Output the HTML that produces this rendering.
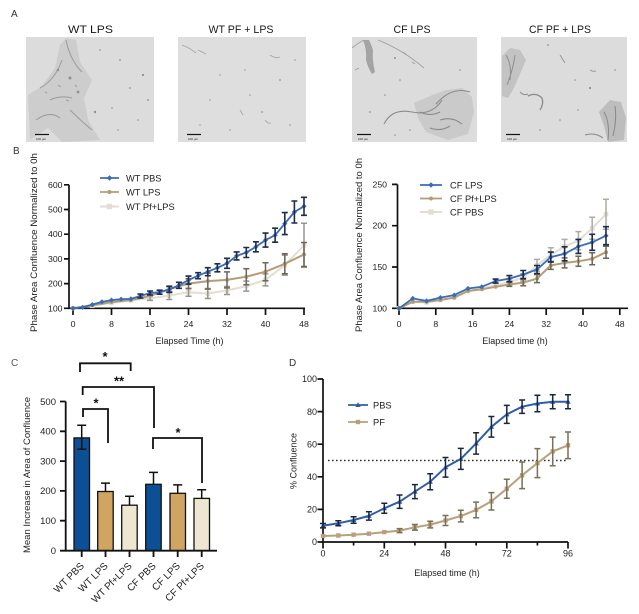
<!DOCTYPE html>
<html><head><meta charset="utf-8"><style>
html,body{margin:0;padding:0;background:#fff;}
svg{display:block;}
text{font-family:"Liberation Sans",Arial,sans-serif;}
</style></head><body>
<svg width="639" height="614" viewBox="0 0 639 614" xmlns="http://www.w3.org/2000/svg">
<defs>
<marker id="mdB" viewBox="-3 -3 6 6" markerWidth="6" markerHeight="6" markerUnits="userSpaceOnUse"><path d="M0,-2.6L2.6,0L0,2.6L-2.6,0Z" fill="#3b6cb4"/></marker>
<marker id="mcT" viewBox="-3 -3 6 6" markerWidth="6" markerHeight="6" markerUnits="userSpaceOnUse"><circle r="2" fill="#b49d74"/></marker>
<marker id="msL" viewBox="-3 -3 6 6" markerWidth="6" markerHeight="6" markerUnits="userSpaceOnUse"><rect x="-2.3" y="-2.3" width="4.6" height="4.6" fill="#e2ded4"/></marker>
<marker id="mtD" viewBox="-3 -3 6 6" markerWidth="6" markerHeight="6" markerUnits="userSpaceOnUse"><path d="M0,-2.8L2.7,2L-2.7,2Z" fill="#2f5ea8"/></marker>
<marker id="msD" viewBox="-3 -3 6 6" markerWidth="6" markerHeight="6" markerUnits="userSpaceOnUse"><rect x="-2.2" y="-2.2" width="4.4" height="4.4" fill="#b8a07a"/></marker>
</defs>
<rect width="639" height="614" fill="#fff"/>

<!-- ================= Panel A ================= -->
<text x="11" y="17" font-size="10" fill="#333">A</text>
<text x="90.5" y="33" font-size="11" fill="#1a1a1a" text-anchor="middle" textLength="45" lengthAdjust="spacingAndGlyphs">WT LPS</text>
<text x="241" y="33" font-size="11" fill="#1a1a1a" text-anchor="middle" textLength="65" lengthAdjust="spacingAndGlyphs">WT PF + LPS</text>
<text x="412" y="33" font-size="11" fill="#1a1a1a" text-anchor="middle" textLength="37" lengthAdjust="spacingAndGlyphs">CF LPS</text>
<text x="560" y="33" font-size="11" fill="#1a1a1a" text-anchor="middle" textLength="62" lengthAdjust="spacingAndGlyphs">CF PF + LPS</text>

<!-- image 1 -->
<rect x="26" y="37" width="128" height="105" fill="#dcdcdc"/>
<polygon points="28,95 42,86 55,68 60,45 66,38 76,40 80,62 92,80 84,98 88,120 100,140 62,142 48,128 30,140" fill="#cdcdcd"/>
<path d="M40,88 Q55,80 62,60 M66,40 Q70,60 82,72 M50,100 Q60,95 72,98 M36,120 Q50,110 60,118 M70,110 Q80,120 92,130 M45,92 l2,1 M58,85 l3,2 M75,85 l2,2 M66,100 l3,1" stroke="#9c9c9c" stroke-width="1" fill="none"/>
<g fill="#8f8f8f"><circle cx="70" cy="78" r="1.5"/><circle cx="78" cy="92" r="1.4"/><circle cx="120" cy="60" r="0.9"/><circle cx="130" cy="88" r="0.9"/><circle cx="143" cy="75" r="1.1"/><circle cx="112" cy="108" r="0.8"/><circle cx="138" cy="120" r="0.8"/><circle cx="100" cy="50" r="0.8"/><circle cx="118" cy="130" r="0.7"/><circle cx="148" cy="100" r="0.9"/><circle cx="95" cy="112" r="1.2"/><circle cx="58" cy="70" r="1.2"/></g>
<line x1="35" y1="134.5" x2="49" y2="134.5" stroke="#111" stroke-width="1.2"/>
<text x="36" y="140" font-size="3" fill="#222">100 µm</text>

<!-- image 2 -->
<rect x="178" y="37" width="128" height="105" fill="#dedede"/>
<path d="M182,45 q8,3 14,8 M198,50 l8,4 M270,55 q6,4 10,2 M240,110 l3,5 M265,120 q3,4 6,3" stroke="#a6a6a6" stroke-width="0.9" fill="none"/>
<g fill="#959595"><circle cx="220" cy="75" r="0.8"/><circle cx="250" cy="95" r="0.8"/><circle cx="280" cy="80" r="0.9"/><circle cx="210" cy="100" r="0.7"/><circle cx="262" cy="112" r="0.9"/><circle cx="295" cy="60" r="0.8"/><circle cx="230" cy="130" r="0.7"/><circle cx="290" cy="125" r="0.8"/><circle cx="200" cy="125" r="0.7"/><circle cx="245" cy="70" r="0.7"/></g>
<line x1="187" y1="134.5" x2="201" y2="134.5" stroke="#111" stroke-width="1.2"/>
<text x="188" y="140" font-size="3" fill="#222">100 µm</text>

<!-- image 3 -->
<rect x="352" y="37" width="125" height="105" fill="#dcdcdc"/>
<path d="M363,40 q4,10 3,20 q2,8 6,14 l3,-2 q-3,-12 -2,-22 q-2,-6 -4,-10 Z" fill="#a4a4a4"/>
<path d="M352,48 q6,-5 12,-8 M378,40 q25,10 46,28 M355,70 l4,-2 M403,52 l4,3 M412,62 l3,2" stroke="#a0a0a0" stroke-width="0.9" fill="none"/>
<polygon points="414,103 430,96 446,90 462,88 472,97 474,112 468,134 448,140 426,132 418,118" fill="#cacaca"/>
<path d="M384,124 Q392,108 412,112 T442,100 M436,104 Q452,86 470,92 M420,112 q10,5 20,0 M440,120 q12,-4 22,4 M430,128 q10,4 20,-2" stroke="#8a8a8a" stroke-width="1.1" fill="none"/>
<g fill="#8f8f8f"><circle cx="395" cy="58" r="1"/><circle cx="400" cy="80" r="0.8"/><circle cx="385" cy="95" r="0.8"/><circle cx="370" cy="112" r="0.9"/><circle cx="460" cy="70" r="0.8"/><circle cx="395" cy="135" r="0.8"/><circle cx="410" cy="130" r="0.8"/></g>
<line x1="357" y1="134.5" x2="371" y2="134.5" stroke="#111" stroke-width="1.2"/>
<text x="358" y="140" font-size="3" fill="#222">100 µm</text>

<!-- image 4 -->
<rect x="501" y="37" width="126" height="105" fill="#dcdcdc"/>
<polygon points="502,56 510,48 520,50 526,60 520,74 514,88 508,98 502,96" fill="#c3c3c3"/>
<path d="M506,55 q6,10 4,25 M515,55 q-2,15 -8,30 M520,92 q4,4 8,2" stroke="#8e8e8e" stroke-width="1" fill="none"/>
<path d="M528,96 q8,-4 14,2 q2,6 -2,12" stroke="#8a8a8a" stroke-width="1.3" fill="none"/>
<polygon points="599,112 610,100 621,102 626,118 624,140 608,142 604,126" fill="#bdbdbd"/>
<path d="M604,112 q6,10 4,28 M615,106 q2,14 -2,30 M585,135 q10,-3 18,3" stroke="#888" stroke-width="1" fill="none"/>
<path d="M560,55 l5,8 M590,70 q3,2 6,1" stroke="#999" stroke-width="1" fill="none"/>
<g fill="#8f8f8f"><circle cx="548" cy="45" r="0.9"/><circle cx="575" cy="80" r="0.8"/><circle cx="590" cy="88" r="1.1"/><circle cx="560" cy="120" r="0.8"/><circle cx="540" cy="130" r="0.8"/><circle cx="578" cy="110" r="0.7"/><circle cx="615" cy="70" r="0.8"/></g>
<line x1="506" y1="134.5" x2="520" y2="134.5" stroke="#111" stroke-width="1.2"/>
<text x="507" y="140" font-size="3" fill="#222">100 µm</text>

<!-- ================= Panel B left ================= -->
<text x="13" y="154" font-size="10" fill="#333">B</text>
<text transform="translate(37,242.5) rotate(-90)" font-size="9.5" fill="#222" text-anchor="middle" textLength="179" lengthAdjust="spacingAndGlyphs">Phase Area  Confluence Normalized to 0h</text>
<g stroke="#111" stroke-width="1.7" fill="none">
<path d="M69,184.8V308.3H305"/>
<path d="M64,184.8H69M64,209.5H69M64,234.2H69M64,258.9H69M64,283.6H69M64,308.3H69"/>
<path d="M73,308.3V315M111.5,308.3V315M150,308.3V315M188.5,308.3V315M227,308.3V315M265.5,308.3V315M304,308.3V315"/>
</g>
<g font-size="8.7" fill="#222" text-anchor="end">
<text x="62.5" y="187.8">600</text><text x="62.5" y="212.5">500</text><text x="62.5" y="237.2">400</text><text x="62.5" y="261.9">300</text><text x="62.5" y="286.6">200</text><text x="62.5" y="311.3">100</text>
</g>
<g font-size="8.7" fill="#222" text-anchor="middle">
<text x="73" y="327">0</text><text x="111.5" y="327">8</text><text x="150" y="327">16</text><text x="188.5" y="327">24</text><text x="227" y="327">32</text><text x="265.5" y="327">40</text><text x="304" y="327">48</text>
</g>
<text x="189.5" y="344" font-size="9" fill="#222" text-anchor="middle">Elapsed Time (h)</text>

<!-- series: light -->
<polyline points="73,308.3 92.3,305.8 111.5,302.9 130.8,300.4 150,298.4 169.3,295.5 188.5,292.2 207.8,293.5 227,290.5 246.3,286.1 265.5,279.9 284.8,265.1 304,245.3" fill="none" stroke="#e2ded4" stroke-width="2" marker-start="url(#msL)" marker-mid="url(#msL)" marker-end="url(#msL)"/>
<path d="M150,296.4V300.4M147,296.4H153M147,300.4H153 M169.3,291.5V299.5M166.3,291.5H172.3M166.3,299.5H172.3 M188.5,288.2V296.2M185.5,288.2H191.5M185.5,296.2H191.5 M207.8,288.5V298.5M204.8,288.5H210.8M204.8,298.5H210.8 M227,286.5V294.5M224,286.5H230M224,294.5H230 M246.3,281.1V291.1M243.3,281.1H249.3M243.3,291.1H249.3 M265.5,273.9V285.9M262.5,273.9H268.5M262.5,285.9H268.5 M284.8,255.1V275.1M281.8,255.1H287.8M281.8,275.1H287.8 M304,223.3V267.3M301,223.3H307M301,267.3H307" stroke="#98958c" stroke-width="1.5" fill="none"/>
<!-- series: tan -->
<polyline points="73,308.3 92.3,305.3 111.5,302.1 130.8,300.1 150,295.9 169.3,289 188.5,283.6 207.8,281.1 227,279.9 246.3,276.7 265.5,271.7 284.8,263.8 304,254.5" fill="none" stroke="#b49d74" stroke-width="2" marker-start="url(#mcT)" marker-mid="url(#mcT)" marker-end="url(#mcT)"/>
<path d="M169.3,286V292M166.3,286H172.3M166.3,292H172.3 M188.5,278.6V288.6M185.5,278.6H191.5M185.5,288.6H191.5 M207.8,273.1V289.1M204.8,273.1H210.8M204.8,289.1H210.8 M227,271.9V287.9M224,271.9H230M224,287.9H230 M246.3,268.7V284.7M243.3,268.7H249.3M243.3,284.7H249.3 M265.5,262.7V280.7M262.5,262.7H268.5M262.5,280.7H268.5 M284.8,253.8V273.8M281.8,253.8H287.8M281.8,273.8H287.8 M304,242.5V266.5M301,242.5H307M301,266.5H307" stroke="#6d675a" stroke-width="1.5" fill="none"/>
<!-- series: blue -->
<polyline points="73,308.3 82.6,307.3 92.3,304.6 101.9,301.9 111.5,300.1 121.1,299.2 130.8,298.9 140.4,296 150,293 159.6,292.2 169.3,289.5 178.9,285.3 188.5,280.1 198.1,275.7 207.8,271.7 217.4,267.8 227,263.3 236.6,255.9 246.3,252.5 255.9,246.8 265.5,240.1 275.1,235.2 284.8,223.6 294.4,212 304,206.3" fill="none" stroke="#3b6cb4" stroke-width="1.8" marker-start="url(#mdB)" marker-mid="url(#mdB)" marker-end="url(#mdB)"/>
<path d="M140.4,294V298M137.4,294H143.4M137.4,298H143.4 M150,291V295M147,291H153M147,295H153 M159.6,290.2V294.2M156.6,290.2H162.6M156.6,294.2H162.6 M169.3,286.5V292.5M166.3,286.5H172.3M166.3,292.5H172.3 M178.9,282.3V288.3M175.9,282.3H181.9M175.9,288.3H181.9 M188.5,276.1V284.1M185.5,276.1H191.5M185.5,284.1H191.5 M198.1,272.7V278.7M195.1,272.7H201.1M195.1,278.7H201.1 M207.8,267.7V275.7M204.8,267.7H210.8M204.8,275.7H210.8 M217.4,263.8V271.8M214.4,263.8H220.4M214.4,271.8H220.4 M227,258.3V268.3M224,258.3H230M224,268.3H230 M236.6,251.9V259.9M233.6,251.9H239.6M233.6,259.9H239.6 M246.3,247.5V257.5M243.3,247.5H249.3M243.3,257.5H249.3 M255.9,241.8V251.8M252.9,241.8H258.9M252.9,251.8H258.9 M265.5,233.1V247.1M262.5,233.1H268.5M262.5,247.1H268.5 M275.1,228.2V242.2M272.1,228.2H278.1M272.1,242.2H278.1 M284.8,212.6V234.6M281.8,212.6H287.8M281.8,234.6H287.8 M294.4,201V223M291.4,201H297.4M291.4,223H297.4 M304,197.3V215.3M301,197.3H307M301,215.3H307" stroke="#1c2b4e" stroke-width="1.6" fill="none"/>
<!-- legend -->
<line x1="100" y1="178" x2="119" y2="178" stroke="#3b6cb4" stroke-width="1.8"/><path d="M109.5,175.2L112.3,178L109.5,180.8L106.7,178Z" fill="#3b6cb4"/>
<line x1="100" y1="192" x2="119" y2="192" stroke="#b49d74" stroke-width="1.8"/><circle cx="109.5" cy="192" r="2" fill="#b49d74"/>
<line x1="100" y1="206.5" x2="119" y2="206.5" stroke="#e2ded4" stroke-width="2"/><rect x="106.8" y="203.8" width="5.4" height="5.4" fill="#e2ded4"/>
<g font-size="9.3" fill="#222"><text x="126" y="181.3">WT PBS</text><text x="126" y="195.3">WT LPS</text><text x="126" y="209.8">WT Pf+LPS</text></g>

<!-- ================= Panel B right ================= -->
<text transform="translate(362,245) rotate(-90)" font-size="9.5" fill="#222" text-anchor="middle" textLength="174" lengthAdjust="spacingAndGlyphs">Phase Area  Confluence Normalized to 0h</text>
<g stroke="#111" stroke-width="1.7" fill="none">
<path d="M397.5,184.4V308.3H628"/>
<path d="M392,184.4H397.5M392,225.7H397.5M392,267H397.5M392,308.3H397.5"/>
<path d="M399,308.3V315M435.8,308.3V315M472.6,308.3V315M509.4,308.3V315M546.2,308.3V315M583,308.3V315M619.8,308.3V315"/>
</g>
<g font-size="8.7" fill="#222" text-anchor="end">
<text x="387" y="187.4">250</text><text x="387" y="228.7">200</text><text x="387" y="270">150</text><text x="387" y="311.3">100</text>
</g>
<g font-size="8.7" fill="#222" text-anchor="middle">
<text x="399" y="327">0</text><text x="435.8" y="327">8</text><text x="472.6" y="327">16</text><text x="509.4" y="327">24</text><text x="546.2" y="327">32</text><text x="583" y="327">40</text><text x="619.8" y="327">48</text>
</g>
<text x="515" y="344" font-size="9" fill="#222" text-anchor="middle">Elapsed time (h)</text>

<polyline points="399,308.3 412.8,301.7 426.6,302.5 440.4,300 454.2,297.6 468,291 481.8,288.5 495.6,285.2 509.4,281.9 523.2,277.8 537,265.4 550.8,254.7 564.6,246.4 578.4,240.6 592.2,228.2 606,214.2" fill="none" stroke="#e2ded4" stroke-width="2" marker-start="url(#msL)" marker-mid="url(#msL)" marker-end="url(#msL)"/>
<path d="M509.4,278.9V284.9M506.4,278.9H512.4M506.4,284.9H512.4 M523.2,273.8V281.8M520.2,273.8H526.2M520.2,281.8H526.2 M537,259.4V271.4M534,259.4H540M534,271.4H540 M550.8,247.7V261.7M547.8,247.7H553.8M547.8,261.7H553.8 M564.6,239.4V253.4M561.6,239.4H567.6M561.6,253.4H567.6 M578.4,231.6V249.6M575.4,231.6H581.4M575.4,249.6H581.4 M592.2,217.2V239.2M589.2,217.2H595.2M589.2,239.2H595.2 M606,199.2V229.2M603,199.2H609M603,229.2H609" stroke="#aeaba3" stroke-width="1.5" fill="none"/>
<polyline points="399,308.3 412.8,301.7 426.6,301.7 440.4,300 454.2,297.6 468,291 481.8,289.3 495.6,286.8 509.4,284.4 523.2,282.7 537,278.6 550.8,265.4 564.6,262.9 578.4,261.3 592.2,258.8 606,252.2" fill="none" stroke="#b49d74" stroke-width="2" marker-start="url(#mcT)" marker-mid="url(#mcT)" marker-end="url(#mcT)"/>
<path d="M509.4,282.4V286.4M506.4,282.4H512.4M506.4,286.4H512.4 M523.2,279.7V285.7M520.2,279.7H526.2M520.2,285.7H526.2 M537,274.6V282.6M534,274.6H540M534,282.6H540 M550.8,261.4V269.4M547.8,261.4H553.8M547.8,269.4H553.8 M564.6,257.9V267.9M561.6,257.9H567.6M561.6,267.9H567.6 M578.4,256.3V266.3M575.4,256.3H581.4M575.4,266.3H581.4 M592.2,252.8V264.8M589.2,252.8H595.2M589.2,264.8H595.2 M606,246.2V258.2M603,246.2H609M603,258.2H609" stroke="#6d675a" stroke-width="1.5" fill="none"/>
<polyline points="399,308.3 412.8,298.4 426.6,300.9 440.4,297.6 454.2,295.1 468,288.5 481.8,286.8 495.6,281.1 509.4,278.6 523.2,274.5 537,269.5 550.8,257.1 564.6,253.8 578.4,246.4 592.2,242.3 606,235.7" fill="none" stroke="#3b6cb4" stroke-width="1.8" marker-start="url(#mdB)" marker-mid="url(#mdB)" marker-end="url(#mdB)"/>
<path d="M495.6,279.1V283.1M492.6,279.1H498.6M492.6,283.1H498.6 M509.4,275.6V281.6M506.4,275.6H512.4M506.4,281.6H512.4 M523.2,270.5V278.5M520.2,270.5H526.2M520.2,278.5H526.2 M537,265.5V273.5M534,265.5H540M534,273.5H540 M550.8,252.1V262.1M547.8,252.1H553.8M547.8,262.1H553.8 M564.6,246.8V260.8M561.6,246.8H567.6M561.6,260.8H567.6 M578.4,239.4V253.4M575.4,239.4H581.4M575.4,253.4H581.4 M592.2,234.3V250.3M589.2,234.3H595.2M589.2,250.3H595.2 M606,226.7V244.7M603,226.7H609M603,244.7H609" stroke="#1c2b4e" stroke-width="1.6" fill="none"/>
<line x1="420" y1="185" x2="442" y2="185" stroke="#3b6cb4" stroke-width="1.8"/><path d="M431,182.2L433.8,185L431,187.8L428.2,185Z" fill="#3b6cb4"/>
<line x1="420" y1="198.5" x2="442" y2="198.5" stroke="#b49d74" stroke-width="1.8"/><circle cx="431" cy="198.5" r="2" fill="#b49d74"/>
<line x1="420" y1="212" x2="442" y2="212" stroke="#e2ded4" stroke-width="2"/><rect x="428.3" y="209.3" width="5.4" height="5.4" fill="#e2ded4"/>
<g font-size="9.3" fill="#222"><text x="450" y="188.3">CF LPS</text><text x="450" y="201.8">CF Pf+LPS</text><text x="450" y="215.3">CF PBS</text></g>

<!-- ================= Panel C ================= -->
<text x="11" y="366" font-size="10" fill="#555">C</text>
<text transform="translate(30,475) rotate(-90)" font-size="9.5" fill="#222" text-anchor="middle" textLength="156" lengthAdjust="spacingAndGlyphs">Mean Increase in  Area of Confluence</text>
<g stroke="#111" stroke-width="1.3">
<rect x="74" y="437.9" width="15.5" height="112.8" fill="#0c4f94"/>
<rect x="97.7" y="491.5" width="15.5" height="59.2" fill="#d0a461"/>
<rect x="121.7" y="505.2" width="15.5" height="45.5" fill="#efe6d1"/>
<rect x="145.7" y="484.3" width="15.5" height="66.4" fill="#0c4f94"/>
<rect x="170" y="493.3" width="15.5" height="57.4" fill="#d0a461"/>
<rect x="194" y="498.4" width="15.5" height="52.3" fill="#efe6d1"/>
</g>
<path d="M81.7,425.3V449.2M77.2,425.3H86.2M77.2,449.2H86.2 M105.5,491.5V483.1M101,483.1H110 M129.5,505.2V496.3M125,496.3H134 M153.5,484.3V472.4M149,472.4H158 M177.7,493.3V484.9M173.2,484.9H182.2 M201.7,498.4V489.7M197.2,489.7H206.2" stroke="#111" stroke-width="1.5" fill="none"/>
<g stroke="#111" stroke-width="1.8" fill="none">
<path d="M65.7,401.5V550.7H217"/>
<path d="M60,401.5H65.7M60,431.3H65.7M60,461.1H65.7M60,490.9H65.7M60,520.7H65.7M60,550.7H65.7"/>
<path d="M81.7,550.7V557M105.5,550.7V557M129.5,550.7V557M153.5,550.7V557M177.7,550.7V557M201.7,550.7V557"/>
</g>
<g font-size="9.5" fill="#222" text-anchor="end">
<text x="56" y="404.8">500</text><text x="56" y="434.6">400</text><text x="56" y="464.4">300</text><text x="56" y="494.2">200</text><text x="56" y="524">100</text><text x="56" y="554">0</text>
</g>
<g font-size="10" fill="#222" text-anchor="end">
<text transform="translate(84.7,566.5) rotate(-45)">WT PBS</text>
<text transform="translate(108.5,566.5) rotate(-45)">WT LPS</text>
<text transform="translate(132.5,566.5) rotate(-45)">WT Pf+LPS</text>
<text transform="translate(156.5,566.5) rotate(-45)">CF PBS</text>
<text transform="translate(180.7,566.5) rotate(-45)">CF LPS</text>
<text transform="translate(204.7,566.5) rotate(-45)">CF Pf+LPS</text>
</g>
<g stroke="#111" stroke-width="1.8" fill="none">
<path d="M80,372V363.3H130.7V371"/>
<path d="M82.7,395V387H154V428"/>
<path d="M83,417V409H108V443"/>
<path d="M153,449V438H202V483"/>
</g>
<g font-size="13" font-weight="bold" fill="#111" text-anchor="middle">
<text x="105" y="361">*</text>
<text x="119" y="385.7">**</text>
<text x="96" y="407.5">*</text>
<text x="178" y="437.2">*</text>
</g>

<!-- ================= Panel D ================= -->
<text x="289" y="366" font-size="10" fill="#333">D</text>
<text transform="translate(296.5,461) rotate(-90)" font-size="9" fill="#222" text-anchor="middle">% Confluence</text>
<g stroke="#111" stroke-width="1.7" fill="none">
<path d="M323,379V542H568"/>
<path d="M317.5,379H323M317.5,411.6H323M317.5,444.2H323M317.5,476.8H323M317.5,509.4H323M317.5,542H323"/>
<path d="M323,542V548.5M384.3,542V548.5M445.5,542V548.5M506.8,542V548.5M568,542V548.5"/>
<path d="M353.6,542V545.5M414.9,542V545.5M476.1,542V545.5M537.4,542V545.5"/>
</g>
<g font-size="9" fill="#222" text-anchor="end">
<text x="317" y="382.2">100</text><text x="317" y="414.8">80</text><text x="317" y="447.4">60</text><text x="317" y="480">40</text><text x="317" y="512.6">20</text><text x="317" y="545.2">0</text>
</g>
<g font-size="9" fill="#222" text-anchor="middle">
<text x="323" y="556.5">0</text><text x="384.3" y="556.5">24</text><text x="445.5" y="556.5">48</text><text x="506.8" y="556.5">72</text><text x="568" y="556.5">96</text>
</g>
<text x="447" y="576" font-size="9" fill="#222" text-anchor="middle">Elapsed time (h)</text>
<line x1="328" y1="460.5" x2="568" y2="460.5" stroke="#333" stroke-width="1.4" stroke-dasharray="1.6,2.4"/>

<polyline points="323,536 338.3,535.5 353.6,534.7 368.9,533.7 384.3,532.1 399.6,530.6 414.9,527.3 430.2,524.6 445.5,520.5 460.8,516.1 476.1,509.9 491.4,501.3 506.8,488.7 522.1,475.3 537.4,463.1 552.7,451.4 568,445.3" fill="none" stroke="#b8a07a" stroke-width="2" stroke-linejoin="round" marker-start="url(#msD)" marker-mid="url(#msD)" marker-end="url(#msD)"/>
<path d="M399.6,528.6V532.6M396.6,528.6H402.6M396.6,532.6H402.6 M414.9,524.5V530.1M411.9,524.5H417.9M411.9,530.1H417.9 M430.2,521.3V527.9M427.2,521.3H433.2M427.2,527.9H433.2 M445.5,515.5V525.5M442.5,515.5H448.5M442.5,525.5H448.5 M460.8,510.3V521.9M457.8,510.3H463.8M457.8,521.9H463.8 M476.1,502.1V517.7M473.1,502.1H479.1M473.1,517.7H479.1 M491.4,492.6V510M488.4,492.6H494.4M488.4,510H494.4 M506.8,479.2V498.2M503.8,479.2H509.8M503.8,498.2H509.8 M522.1,462V488.6M519.1,462H525.1M519.1,488.6H525.1 M537.4,448.6V477.6M534.4,448.6H540.4M534.4,477.6H540.4 M552.7,437.1V465.7M549.7,437.1H555.7M549.7,465.7H555.7 M568,432V458.6M565,432H571M565,458.6H571" stroke="#7a6f58" stroke-width="1.5" fill="none"/>
<polyline points="323,525.7 338.3,523.3 353.6,520 368.9,515.9 384.3,508.3 399.6,501.7 414.9,491.6 430.2,481.7 445.5,467.3 460.8,458.9 476.1,443.4 491.4,426.8 506.8,414.4 522.1,406.7 537.4,403.5 552.7,401.8 568,401.8" fill="none" stroke="#2f5ea8" stroke-width="2" stroke-linejoin="round" marker-start="url(#mtD)" marker-mid="url(#mtD)" marker-end="url(#mtD)"/>
<path d="M323,523.5V527.9M320,523.5H326M320,527.9H326 M338.3,520.8V525.8M335.3,520.8H341.3M335.3,525.8H341.3 M353.6,516.7V523.3M350.6,516.7H356.6M350.6,523.3H356.6 M368.9,511.7V520.1M365.9,511.7H371.9M365.9,520.1H371.9 M384.3,503.3V513.3M381.3,503.3H387.3M381.3,513.3H387.3 M399.6,495V508.4M396.6,495H402.6M396.6,508.4H402.6 M414.9,484.6V498.6M411.9,484.6H417.9M411.9,498.6H417.9 M430.2,473.7V489.7M427.2,473.7H433.2M427.2,489.7H433.2 M445.5,457.5V477.1M442.5,457.5H448.5M442.5,477.1H448.5 M460.8,448.4V469.4M457.8,448.4H463.8M457.8,469.4H463.8 M476.1,432.7V454.1M473.1,432.7H479.1M473.1,454.1H479.1 M491.4,416.5V437.1M488.4,416.5H494.4M488.4,437.1H494.4 M506.8,405.4V423.4M503.8,405.4H509.8M503.8,423.4H509.8 M522.1,400V413.4M519.1,400H525.1M519.1,413.4H525.1 M537.4,395.2V411.8M534.4,395.2H540.4M534.4,411.8H540.4 M552.7,394.8V408.8M549.7,394.8H555.7M549.7,408.8H555.7 M568,394.8V408.8M565,394.8H571M565,408.8H571" stroke="#1a2440" stroke-width="1.5" fill="none"/>
<line x1="348" y1="405" x2="368" y2="405" stroke="#2f5ea8" stroke-width="1.8"/><path d="M358,402.2L360.7,407L355.3,407Z" fill="#2f5ea8"/>
<line x1="348" y1="422" x2="368" y2="422" stroke="#b8a07a" stroke-width="1.8"/><rect x="355.8" y="419.8" width="4.4" height="4.4" fill="#b8a07a"/>
<g font-size="9.3" fill="#222"><text x="373" y="408.3">PBS</text><text x="373" y="425.3">PF</text></g>
</svg>
</body></html>
